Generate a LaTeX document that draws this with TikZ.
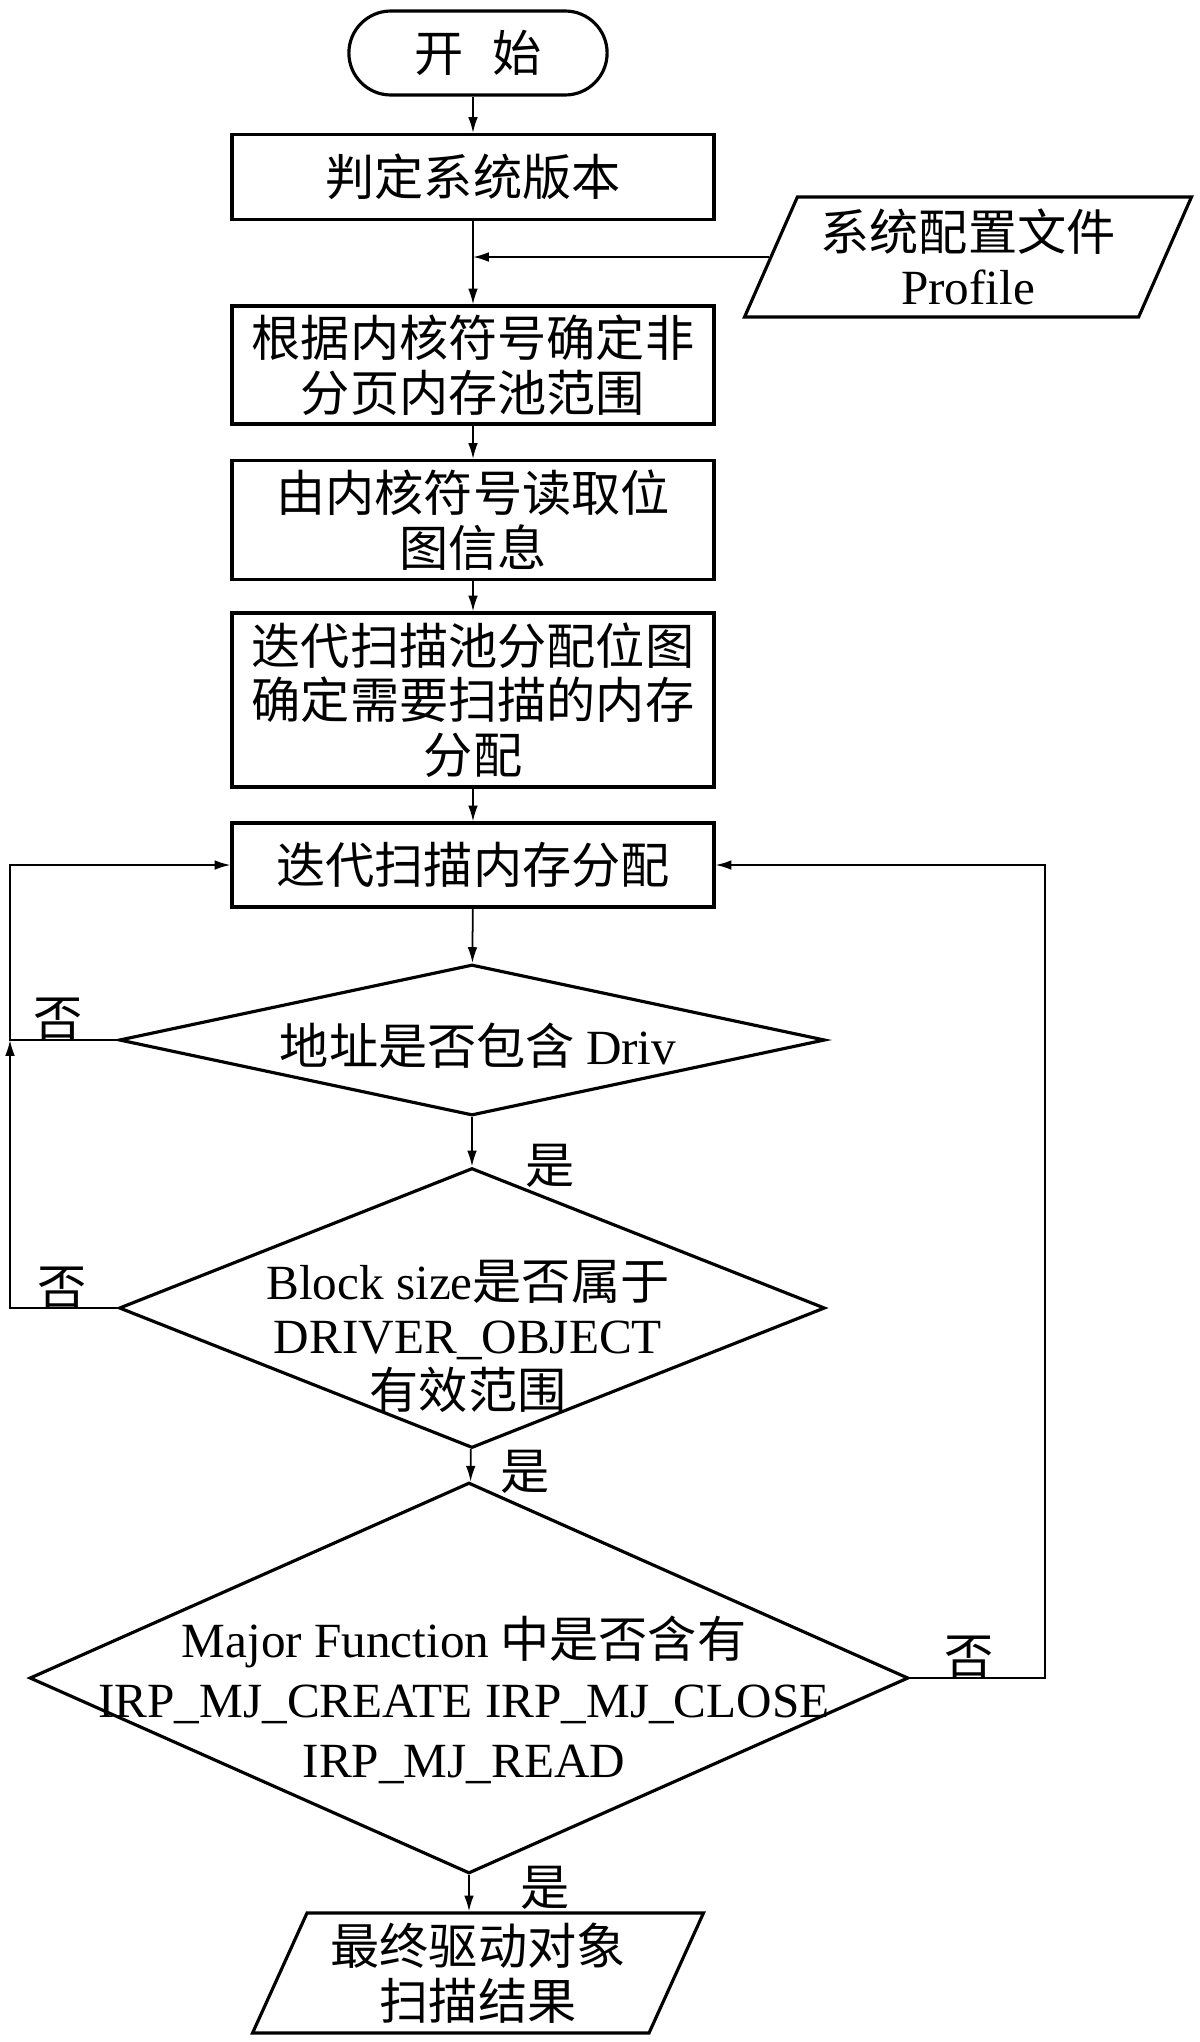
\documentclass[tikz,border=0pt]{standalone}
\usepackage{fontspec}
\setmainfont{Noto Sans CJK SC}
\newfontfamily\en{Liberation Serif}
\usetikzlibrary{shapes.geometric, shapes.misc, arrows.meta}

\begin{document}
\begin{tikzpicture}[x=0.02cm, y=-0.02cm, font=\fontsize{28}{31}\selectfont]
\tikzstyle{oval}=[rounded rectangle, draw=black, line width=1.8pt, minimum width=5.4cm, minimum height=1.68cm]
\tikzstyle{box}=[rectangle, align=center, draw=black, line width=1.8pt, minimum width=9.64cm]
\tikzstyle{dia}=[diamond, draw=black, line width=1.8pt, inner sep=0pt]
\tikzstyle{io}=[trapezium, trapezium left angle=64, trapezium right angle=116, trapezium stretches body, align=center, draw=black, line width=1.8pt, minimum height=2.4cm]
\tikzstyle{txt}=[align=center, inner sep=0pt]
\tikzstyle{arrow}=[line width=1pt, -{Latex[length=9pt,width=5.5pt]}]
\useasboundingbox (0,0) rectangle (1200,2042);
\node[oval] (st) at (478,53) {开\hspace{0.6em}始};
\node[box, minimum height=1.7cm] (b1) at (473,177) {判定系统版本};
\node[io, minimum width=8.94cm] (prof) at (968,257) {系统配置文件\\{\en Profile}};
\node[box, minimum height=2.36cm] (b2) at (473,365) {根据内核符号确定非\\分页内存池范围};
\node[box, minimum height=2.38cm] (b3) at (473,520) {由内核符号读取位\\图信息};
\node[box, minimum height=3.48cm] (b4) at (473,700) {迭代扫描池分配位图\\确定需要扫描的内存\\分配};
\node[box, minimum height=1.68cm] (b5) at (473,865) {迭代扫描内存分配};
\node[dia, minimum width=14.12cm, minimum height=3.02cm] (d1) at (472,1040) {};
\node[txt] (t1) at (478,1046) {地址是否包含 {\en Driv}};
\node[dia, minimum width=14.12cm, minimum height=5.6cm] (d2) at (472,1308) {};
\node[txt] (t2) at (468,1336) {{\en Block size}是否属于\\{\en DRIVER\_OBJECT}\\有效范围};
\node[dia, minimum width=17.58cm, minimum height=7.82cm] (d3) at (469,1678) {};
\node[txt] (t3) at (464,1700) {{\en Major Function} 中是否含有\\[3pt]{\en IRP\_MJ\_CREATE IRP\_MJ\_CLOSE}\\[3pt]{\en IRP\_MJ\_READ}};
\node[io, minimum width=9.02cm] (out) at (478,1973) {最终驱动对象\\扫描结果};
\coordinate (lft) at (10,0);
\coordinate (rgt) at (1045,0);
\coordinate (j) at (b1 |- prof.west);
\draw[arrow] (st.south -| b1) -- (b1);
\draw[arrow] (b1) -- (b2);
\draw[arrow] (prof.west) -- (j);
\draw[arrow] (b2) -- (b3);
\draw[arrow] (b3) -- (b4);
\draw[arrow] (b4) -- (b5);
\draw[arrow] (b5) -- (d1);
\draw[arrow] (d1) -- (d2);
\draw[arrow] (d2) -- (d3);
\draw[arrow] (d3.south) -- (d3.south |- out.north);
\draw[arrow] (d1.west) -- (d1.west -| lft) |- (b5.west);
\draw[arrow] (d2.west) -- (d2.west -| lft) -- (d1.west -| lft);
\draw[arrow] (d3.east) -- (d3.east -| rgt) |- (b5.east);
\node (no1) at (58,1019) {否};
\node (yes1) at (550,1166) {是};
\node (no2) at (62,1288) {否};
\node (yes2) at (525,1472) {是};
\node (no3) at (969,1657) {否};
\node (yes3) at (545,1888) {是};
\end{tikzpicture}
\end{document}
